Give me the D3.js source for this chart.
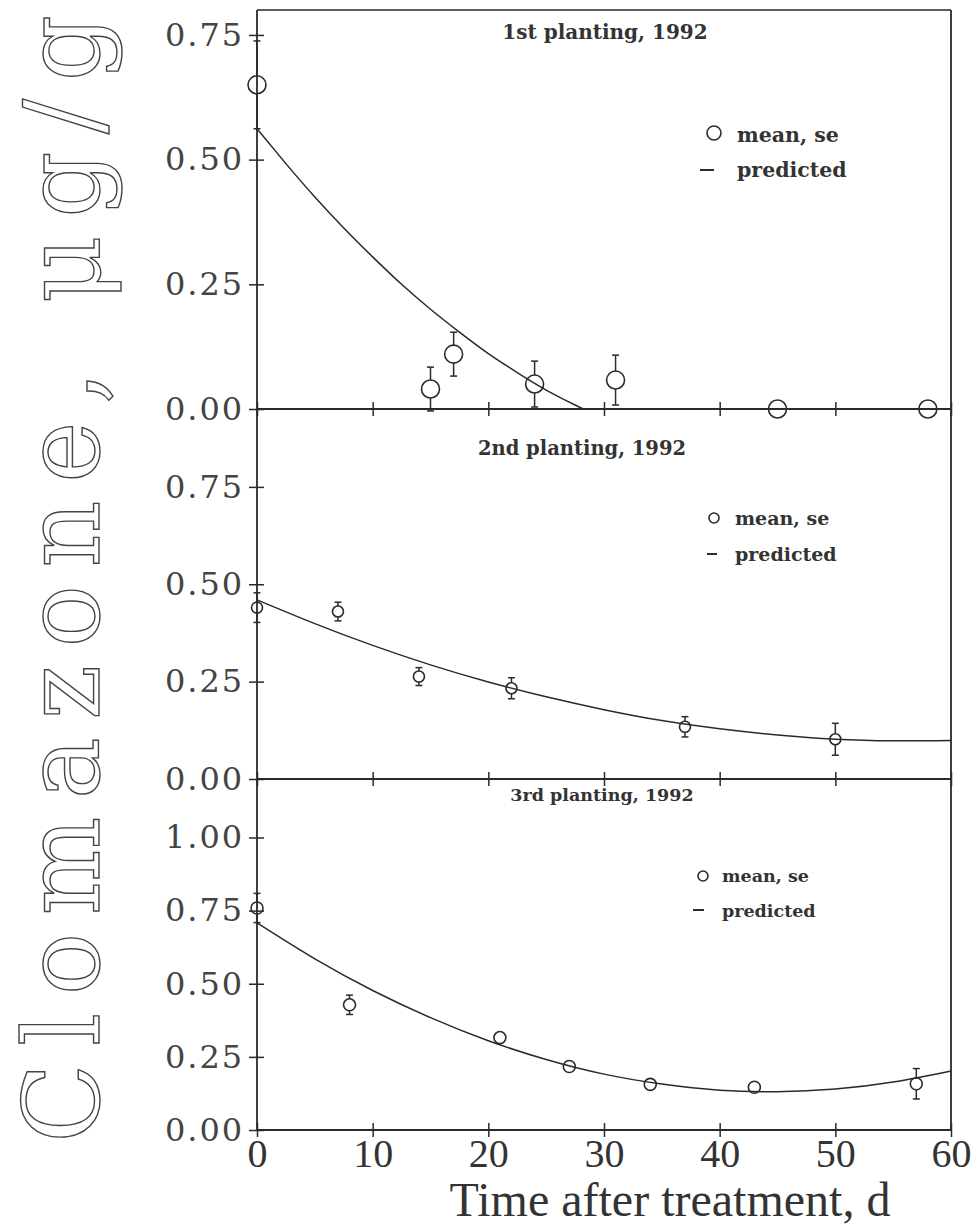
<!DOCTYPE html>
<html>
<head>
<meta charset="utf-8">
<script src="https://cdn.jsdelivr.net/npm/d3@7"></script>
<style>
  html, body { margin: 0; padding: 0; background: #fff; }
  #chart { width: 975px; height: 1232px; }
</style>
</head>
<body>
<div id="chart"></div>
<script>
// x axis ticks (days after treatment)
const dayTicks = [0, 10, 20, 30, 40, 50, 60];

// 1st planting, 1992
const days1 = [0, 15, 17, 24, 31, 45, 58];
const mean1 = [0.65, 0.04, 0.11, 0.05, 0.058, 0, 0];
const se1 = [0.088, 0.044, 0.044, 0.046, 0.05, 0, 0];
const predDays1 = [0, 2.5, 5, 7.5, 10, 12.5, 15, 17.5, 20, 22.5, 25, 27.5, 28.2];
const pred1 = [0.562, 0.492, 0.425, 0.363, 0.305, 0.250, 0.200, 0.154, 0.111, 0.073, 0.038, 0.008, 0];
const yTicks1 = [0, 0.25, 0.5, 0.75];

// 2nd planting, 1992
const days2 = [0, 7, 14, 22, 37, 50];
const mean2 = [0.44, 0.43, 0.263, 0.233, 0.134, 0.102];
const se2 = [0.038, 0.024, 0.023, 0.027, 0.026, 0.041];
const predDays2 = [0, 5, 10, 15, 20, 25, 30, 35, 40, 45, 50, 55, 60];
const pred2 = [0.46, 0.399, 0.343, 0.293, 0.249, 0.211, 0.178, 0.150, 0.129, 0.113, 0.102, 0.098, 0.099];
const yTicks2 = [0, 0.25, 0.5, 0.75];

// 3rd planting, 1992
const days3 = [0, 8, 21, 27, 34, 43, 57];
const mean3 = [0.759, 0.428, 0.316, 0.217, 0.156, 0.146, 0.158];
const se3 = [0.05, 0.033, 0, 0, 0, 0, 0.052];
const predDays3 = [0, 5, 10, 15, 20, 25, 30, 35, 40, 45, 50, 55, 60];
const pred3 = [0.708, 0.585, 0.477, 0.384, 0.305, 0.241, 0.191, 0.157, 0.136, 0.131, 0.140, 0.164, 0.202];
const yTicks3 = [0, 0.25, 0.5, 0.75, 1.0];

const titles = ["1st planting, 1992", "2nd planting, 1992", "3rd planting, 1992"];
const legendLabels = ["mean, se", "predicted"];

function drawChart(containerId) {
  const width = 975, height = 1232;
  const ink = "#2a2a2a";

  const svg = d3.select(containerId).append("svg")
    .attr("width", width)
    .attr("height", height)
    .style("background", "#fff");

  // shared x scale
  const x = d3.scaleLinear().domain([0, 60]).range([257, 951]);

  // panel layout (pixel boxes + style), data comes from the arrays above
  const panels = [
    { top: 10, bottom: 409, ymax: 0.8, days: days1, mean: mean1, se: se1, pd: predDays1, pv: pred1, ticks: yTicks1,
      r: 9, titleX: 605, titleY: 39, titleSize: 20, leg: { cx: 714, cy: 133, r: 7, tx: 737, ty1: 142, ty2: 177, dash: [700, 714], size: 20.5 } },
    { top: 409, bottom: 779, ymax: 0.95, days: days2, mean: mean2, se: se2, pd: predDays2, pv: pred2, ticks: yTicks2,
      r: 5.5, titleX: 582, titleY: 455, titleSize: 19.5, leg: { cx: 714, cy: 518, r: 5, tx: 735, ty1: 525, ty2: 561, dash: [707, 717], size: 19 } },
    { top: 779, bottom: 1130, ymax: 1.2, days: days3, mean: mean3, se: se3, pd: predDays3, pv: pred3, ticks: yTicks3,
      r: 6, titleX: 602, titleY: 801, titleSize: 17.5, leg: { cx: 703, cy: 876, r: 5, tx: 722, ty1: 882, ty2: 917, dash: [693, 704], size: 17.5 } }
  ];

  panels.forEach((p, k) => {
    const y = d3.scaleLinear().domain([0, p.ymax]).range([p.bottom, p.top]);
    const g = svg.append("g");
    const isLast = k === panels.length - 1;

    // y axis with ticks crossing the line
    const yAxis = g.append("g")
      .attr("transform", `translate(${x(0)},0)`)
      .call(d3.axisLeft(y).tickValues(p.ticks).tickSize(8).tickPadding(7).tickFormat(d3.format(".2f")));
    yAxis.select(".domain").remove();
    yAxis.selectAll(".tick line").attr("x1", 7).attr("stroke", ink).attr("stroke-width", 1.5);
    yAxis.selectAll(".tick text")
      .attr("fill", "#444")
      .style("font-family", "'DejaVu Serif', serif")
      .style("font-size", "32px")
      .attr("textLength", 77)
      .attr("lengthAdjust", "spacing");

    // x axis at the bottom of each panel
    const xAxis = g.append("g")
      .attr("transform", `translate(0,${p.bottom})`)
      .call(d3.axisBottom(x).tickValues(dayTicks).tickSize(7).tickPadding(2)
        .tickFormat(isLast ? d3.format("d") : ""));
    xAxis.select(".domain").remove();
    xAxis.selectAll(".tick line").attr("y1", -7).attr("stroke", ink).attr("stroke-width", 1.5);
    xAxis.selectAll(".tick text")
      .attr("fill", "#333")
      .style("font-family", "'Liberation Serif', serif")
      .style("font-size", "40px");

    // panel frame lines
    g.append("line").attr("x1", x(0)).attr("x2", x(60)).attr("y1", p.bottom).attr("y2", p.bottom)
      .attr("stroke", ink).attr("stroke-width", 1.8);
    g.append("line").attr("x1", x(0)).attr("x2", x(0)).attr("y1", p.top).attr("y2", p.bottom)
      .attr("stroke", ink).attr("stroke-width", 1.8);
    g.append("line").attr("x1", x(60)).attr("x2", x(60)).attr("y1", p.top).attr("y2", p.bottom)
      .attr("stroke", ink).attr("stroke-width", 1.8);
    if (k === 0) {
      g.append("line").attr("x1", x(0)).attr("x2", x(60)).attr("y1", p.top).attr("y2", p.top)
        .attr("stroke", ink).attr("stroke-width", 1.5);
    }

    // predicted curve
    const pts = p.pd.map((d, i) => [d, p.pv[i]]);
    g.append("path")
      .datum(pts)
      .attr("d", d3.line().x(d => x(d[0])).y(d => y(d[1])).curve(d3.curveNatural))
      .attr("fill", "none")
      .attr("stroke", ink)
      .attr("stroke-width", 1.5);

    // error bars (outside the circle only) + caps
    const obs = p.days.map((d, i) => ({ d, m: p.mean[i], s: p.se[i] }));
    obs.filter(o => o.s > 0).forEach(o => {
      const cx = x(o.d), cy = y(o.m), yt = y(o.m + o.s), yb = y(o.m - o.s);
      const eb = g.append("g").attr("stroke", ink).attr("stroke-width", 1.5);
      if (cy - p.r > yt) eb.append("line").attr("x1", cx).attr("x2", cx).attr("y1", yt).attr("y2", cy - p.r);
      if (yb > cy + p.r) eb.append("line").attr("x1", cx).attr("x2", cx).attr("y1", cy + p.r).attr("y2", yb);
      eb.append("line").attr("x1", cx - 3.5).attr("x2", cx + 3.5).attr("y1", yt).attr("y2", yt);
      eb.append("line").attr("x1", cx - 3.5).attr("x2", cx + 3.5).attr("y1", yb).attr("y2", yb);
    });

    g.selectAll("circle.obs")
      .data(obs)
      .enter().append("circle")
      .attr("class", "obs")
      .attr("cx", o => x(o.d))
      .attr("cy", o => y(o.m))
      .attr("r", p.r)
      .attr("fill", "none")
      .attr("stroke", ink)
      .attr("stroke-width", 1.6);

    // title
    g.append("text")
      .attr("x", p.titleX).attr("y", p.titleY)
      .attr("text-anchor", "middle")
      .attr("fill", "#333")
      .style("font-family", "'DejaVu Serif', serif")
      .style("font-weight", "bold")
      .style("font-size", p.titleSize + "px")
      .text(titles[k]);

    // legend
    const L = p.leg;
    g.append("circle").attr("cx", L.cx).attr("cy", L.cy).attr("r", L.r)
      .attr("fill", "none").attr("stroke", ink).attr("stroke-width", 1.6);
    g.append("line").attr("x1", L.dash[0]).attr("x2", L.dash[1]).attr("y1", L.ty2 - 7).attr("y2", L.ty2 - 7)
      .attr("stroke", ink).attr("stroke-width", 2);
    [L.ty1, L.ty2].forEach((ty, j) => {
      g.append("text")
        .attr("x", L.tx).attr("y", ty)
        .attr("fill", "#333")
        .style("font-family", "'DejaVu Serif', serif")
        .style("font-weight", "bold")
        .style("font-size", L.size + "px")
        .text(legendLabels[j]);
    });
  });

  // axis titles
  svg.append("text")
    .attr("x", 670).attr("y", 1216)
    .attr("text-anchor", "middle")
    .attr("fill", "#333")
    .style("font-family", "'Liberation Serif', serif")
    .style("font-size", "48px")
    .text("Time after treatment, d");

  svg.append("text")
    .attr("transform", "translate(99,1143) rotate(-90)")
    .attr("textLength", 1128)
    .attr("lengthAdjust", "spacing")
    .attr("fill", "#fff")
    .attr("stroke", "#444")
    .attr("stroke-width", 1.4)
    .style("font-family", "'DejaVu Serif', serif")
    .style("font-size", "104px")
    .text("Clomazone, μg/g");
}

drawChart("#chart");
</script>
</body>
</html>
